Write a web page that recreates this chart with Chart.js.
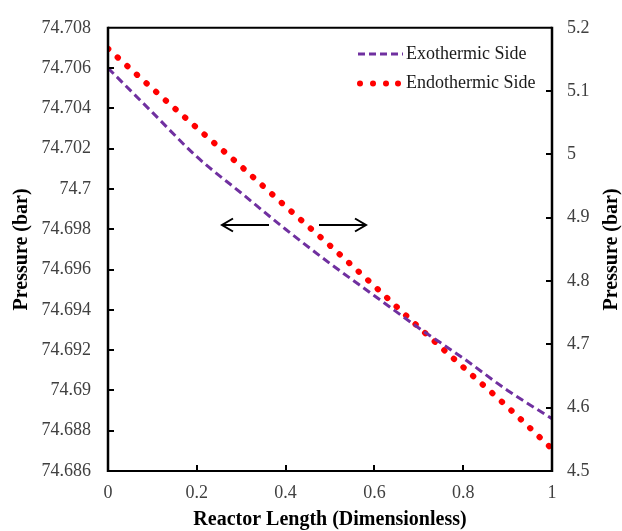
<!DOCTYPE html>
<html>
<head>
<meta charset="utf-8">
<script src="https://cdn.jsdelivr.net/npm/chart.js@4"></script>
<style>
  html, body { margin: 0; padding: 0; background: #fff; }
  #wrap { width: 622px; height: 531px; }
</style>
</head>
<body>
<div id="wrap"><canvas id="pressureChart" width="622" height="531"></canvas></div>
<script>
// reactor length (dimensionless)
const xValues = [0, 0.1, 0.2, 0.3, 0.4, 0.5, 0.6, 0.7, 0.8, 0.9, 1];
// left axis, bar
const exothermic = [74.7060, 74.7038, 74.7016, 74.6998, 74.6980, 74.6963, 74.6947, 74.6931, 74.6916, 74.6900, 74.6886];
// right axis, bar
const endothermic = [5.167, 5.104, 5.042, 4.981, 4.918, 4.856, 4.792, 4.727, 4.664, 4.601, 4.535];

const xTicks = [0, 0.2, 0.4, 0.6, 0.8, 1];
const leftTicks = [74.686, 74.688, 74.69, 74.692, 74.694, 74.696, 74.698, 74.7, 74.702, 74.704, 74.706, 74.708];
const rightTicks = [4.5, 4.6, 4.7, 4.8, 4.9, 5, 5.1, 5.2];

const seriesNames = ['Exothermic Side', 'Endothermic Side'];
const axisTitleX = 'Reactor Length (Dimensionless)';
const axisTitleY = 'Pressure (bar)';

const SERIF = '"Liberation Serif", "Times New Roman", serif';
const PURPLE = '#7030A0';
const RED = '#FF0000';

function setTicks(values) {
    return function(scale) {
        scale.ticks = values.map(v => ({ value: v }));
    };
}

// frame, inward tick marks, legend, arrows and right title
const decorations = {
    id: 'decorations',
    afterDraw(chart) {
        const ctx = chart.ctx;
        const a = chart.chartArea;
        const sx = chart.scales.x, sl = chart.scales.y, sr = chart.scales.y1;
        ctx.save();
        ctx.strokeStyle = '#000';
        ctx.setLineDash([]);

        // tick marks pointing inward
        ctx.lineWidth = 2;
        ctx.beginPath();
        leftTicks.slice(1, -1).forEach(v => {
            const y = Math.round(sl.getPixelForValue(v));
            ctx.moveTo(a.left, y); ctx.lineTo(a.left + 6, y);
        });
        rightTicks.slice(1, -1).forEach(v => {
            const y = Math.round(sr.getPixelForValue(v));
            ctx.moveTo(a.right, y); ctx.lineTo(a.right - 6, y);
        });
        xTicks.slice(1, -1).forEach(v => {
            const x = Math.round(sx.getPixelForValue(v));
            ctx.moveTo(x, a.bottom); ctx.lineTo(x, a.bottom - 6);
        });
        ctx.stroke();

        // frame
        ctx.lineWidth = 2;
        ctx.beginPath();
        ctx.moveTo(a.left, a.top); ctx.lineTo(a.right, a.top);
        ctx.moveTo(a.left, a.bottom); ctx.lineTo(a.right, a.bottom);
        ctx.stroke();
        ctx.lineWidth = 2.5;
        ctx.beginPath();
        ctx.moveTo(a.left, a.top - 1); ctx.lineTo(a.left, a.bottom + 1);
        ctx.moveTo(a.right, a.top - 1); ctx.lineTo(a.right, a.bottom + 1);
        ctx.stroke();

        // arrows
        const ay = 225;
        ctx.lineWidth = 2;
        ctx.beginPath();
        ctx.moveTo(269, ay); ctx.lineTo(222, ay);
        ctx.moveTo(233, ay - 6.5); ctx.lineTo(222, ay); ctx.lineTo(233, ay + 6.5);
        ctx.moveTo(319, ay); ctx.lineTo(366, ay);
        ctx.moveTo(355, ay - 6.5); ctx.lineTo(366, ay); ctx.lineTo(355, ay + 6.5);
        ctx.stroke();

        // legend
        ctx.lineWidth = 3;
        ctx.strokeStyle = PURPLE;
        ctx.setLineDash([7, 4]);
        ctx.beginPath();
        ctx.moveTo(358, 54); ctx.lineTo(403, 54);
        ctx.stroke();
        ctx.setLineDash([]);
        ctx.fillStyle = RED;
        [360, 373, 386, 398].forEach(x => {
            ctx.beginPath();
            ctx.arc(x, 83.5, 3, 0, Math.PI * 2);
            ctx.fill();
        });
        ctx.fillStyle = '#1a1a1a';
        ctx.font = '18px ' + SERIF;
        ctx.textAlign = 'left';
        ctx.textBaseline = 'middle';
        ctx.fillText(seriesNames[0], 406, 54);
        ctx.fillText(seriesNames[1], 406, 83);

        // right axis title, reading bottom to top
        ctx.fillStyle = '#000';
        ctx.font = 'bold 20px ' + SERIF;
        ctx.textAlign = 'center';
        ctx.translate(612, (a.top + a.bottom) / 2);
        ctx.rotate(-Math.PI / 2);
        ctx.fillText(axisTitleY, 0, 0);
        ctx.restore();
    }
};

const tickFont = { family: SERIF, size: 18 };
const titleFont = { family: SERIF, size: 20, weight: 'bold' };

new Chart(document.getElementById('pressureChart').getContext('2d'), {
    type: 'line',
    data: {
        datasets: [{
            label: seriesNames[0],
            data: xValues.map((x, i) => ({ x: x, y: exothermic[i] })),
            yAxisID: 'y',
            borderColor: PURPLE,
            borderWidth: 3,
            borderDash: [8, 4.5],
            cubicInterpolationMode: 'monotone',
            pointRadius: 0,
            fill: false
        }, {
            label: seriesNames[1],
            data: xValues.map((x, i) => ({ x: x, y: endothermic[i] })),
            yAxisID: 'y1',
            borderColor: RED,
            borderWidth: 6,
            borderDash: [0.5, 12.4],
            borderCapStyle: 'round',
            cubicInterpolationMode: 'monotone',
            pointRadius: 0,
            fill: false
        }]
    },
    options: {
        responsive: false,
        animation: false,
        layout: { padding: { top: 21, left: 0, right: 0, bottom: 0 } },
        plugins: {
            legend: { display: false },
            tooltip: { enabled: false }
        },
        scales: {
            x: {
                type: 'linear',
                position: 'bottom',
                min: 0,
                max: 1,
                afterBuildTicks: setTicks(xTicks),
                afterFit: s => { s.height = 60; },
                grid: { display: false, drawTicks: false },
                border: { display: false },
                ticks: {
                    font: tickFont,
                    color: '#404040',
                    padding: 11,
                    maxRotation: 0,
                    callback: v => String(+v.toFixed(1))
                },
                title: {
                    display: true,
                    text: axisTitleX,
                    font: titleFont,
                    color: '#000',
                    padding: { top: 0, bottom: -1 }
                }
            },
            y: {
                type: 'linear',
                position: 'left',
                min: 74.686,
                max: 74.708,
                afterBuildTicks: setTicks(leftTicks),
                afterFit: s => { s.width = 108; },
                grid: { display: false, drawTicks: false },
                border: { display: false },
                ticks: {
                    font: tickFont,
                    color: '#404040',
                    padding: 17,
                    callback: v => String(+v.toFixed(3))
                },
                title: {
                    display: true,
                    text: axisTitleY,
                    font: titleFont,
                    color: '#000',
                    padding: { top: 10, bottom: 0 }
                }
            },
            y1: {
                type: 'linear',
                position: 'right',
                min: 4.5,
                max: 5.2,
                afterBuildTicks: setTicks(rightTicks),
                afterFit: s => { s.width = 70; },
                grid: { display: false, drawTicks: false },
                border: { display: false },
                ticks: {
                    font: tickFont,
                    color: '#404040',
                    padding: 15,
                    callback: v => String(+v.toFixed(1))
                }
            }
        }
    },
    plugins: [decorations]
});
</script>
</body>
</html>
